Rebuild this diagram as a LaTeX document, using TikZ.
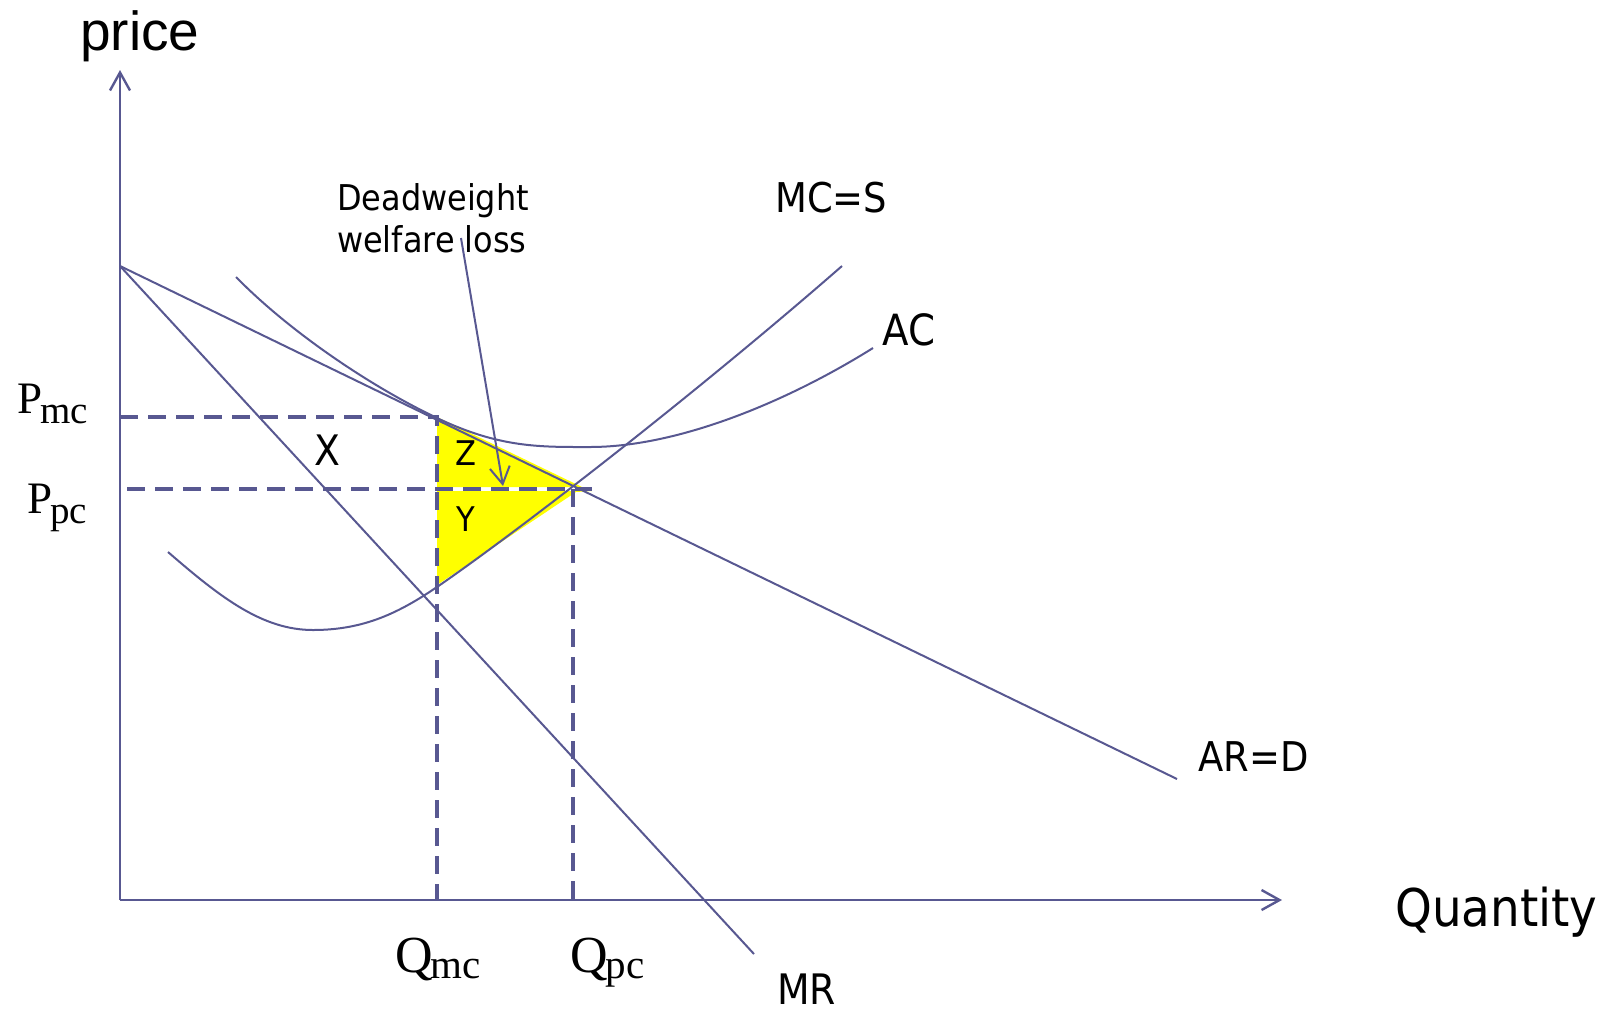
\documentclass[tikz,border=0pt]{standalone}
\usepackage{fontspec}
\setmainfont{Liberation Serif}
\newfontfamily\tah{DejaVu Sans}[FakeStretch=0.9]
\newfontfamily\ari{Liberation Sans}
\usetikzlibrary{arrows.meta}
\definecolor{ln}{RGB}{88,88,145}
\definecolor{yel}{RGB}{255,255,0}
\newcommand{\fs}[1]{\fontsize{#1}{#1}\selectfont}
\begin{document}
\begin{tikzpicture}[x=1pt,y=-1pt,
  curve/.style={draw=ln,line width=2pt},
  axisline/.style={draw=ln,line width=2.4pt,-{Straight Barb[length=18pt,width=20pt]}},
  guide/.style={draw=ln,line width=4pt,dash pattern=on 18pt off 10pt},
  lab/.style={inner sep=0pt,anchor=base west,text=black},
  cen/.style={inner sep=0pt,anchor=center,text=black}]
\useasboundingbox (0,0) rectangle (1608,1013);
% coordinates
\coordinate (O) at (120,900);
\coordinate (ytip) at (120,70);
\coordinate (xtip) at (1282,900);
\coordinate (arS) at (120,266);
\coordinate (arE) at (1177,779);
\coordinate (mrE) at (754,954);
\coordinate (pmcL) at (120,417);
\coordinate (pmcR) at (437,417);
\coordinate (qmcB) at (437,900);
\coordinate (ppcL) at (127,489);
\coordinate (ppcR) at (592,489);
\coordinate (qpcT) at (573,489);
\coordinate (qpcB) at (573,900);
\coordinate (dwS) at (461,238);
\coordinate (dwE) at (503,486);
% yellow areas
\fill[yel] (437,417) -- (582,487) -- (437,487) -- cycle;
\fill[yel] (437,491) -- (592,491) -- (576,492) -- (437,585) -- cycle;
% guides
\draw[guide] (pmcL) -- (pmcR) -- (qmcB);
\draw[guide] (ppcL) -- (ppcR);
\draw[guide] (qpcT) -- (qpcB);
% demand and MR
\draw[curve] (arS) -- (arE);
\draw[curve] (arS) -- (mrE);
% MC
\draw[curve] (168,552) .. controls (220,597) and (262,630) .. (313,630)
  .. controls (365,630) and (400,612) .. (437,587)
  .. controls (520,530) and (700,390) .. (842,266);
% AC
\draw[curve] (236,277) .. controls (290,332) and (370,386) .. (437,418)
  .. controls (500,448) and (540,447) .. (590,447)
  .. controls (680,447) and (790,400) .. (873,348);
% axes
\draw[axisline] (O) -- (ytip);
\draw[axisline] (O) -- (xtip);
% deadweight arrow
\draw[curve,-{Straight Barb[length=17pt,width=20pt]}] (dwS) -- (dwE);
% labels
\node[lab,font=\ari\fs{55}] (price) at (80,50) {price};
\node[lab,font=\tah\fs{52}] (qty) at (1395,926) {Quantity};
\node[lab,font=\tah\fs{41}] (mcs) at (775,212) {MC=S};
\node[lab,font=\tah\fs{43}] (ac) at (882,345) {AC};
\node[lab,font=\tah\fs{41}] (ard) at (1198,771) {AR=D};
\node[lab,font=\tah\fs{42}] (mr) at (777,1004) {MR};
\node[lab,font=\tah\fs{42}] (x) at (314,465) {X};
\node[cen,font=\tah\fs{34}] (z) at (466,453) {Z};
\node[cen,font=\tah\fs{34}] (y) at (466,519) {Y};
\node[lab,font=\tah\fs{35.5}] (dw1) at (337,210) {Deadweight};
\node[lab,font=\tah\fs{35.5}] (dw2) at (337,252) {welfare loss};
\node[lab,font=\fs{45}] (pmc) at (17,413) {P\kern-2pt\raisebox{-10pt}{\fs{39}mc}};
\node[lab,font=\fs{45}] (ppc) at (27,513) {P\kern-2pt\raisebox{-10pt}{\fs{39}pc}};
\node[lab,font=\fs{52}] (qmc) at (395,972) {Q\kern-2pt\raisebox{-6pt}{\fs{41}mc}};
\node[lab,font=\fs{52}] (qpc) at (570,972) {Q\kern-2pt\raisebox{-6pt}{\fs{41}pc}};
\end{tikzpicture}
\end{document}
